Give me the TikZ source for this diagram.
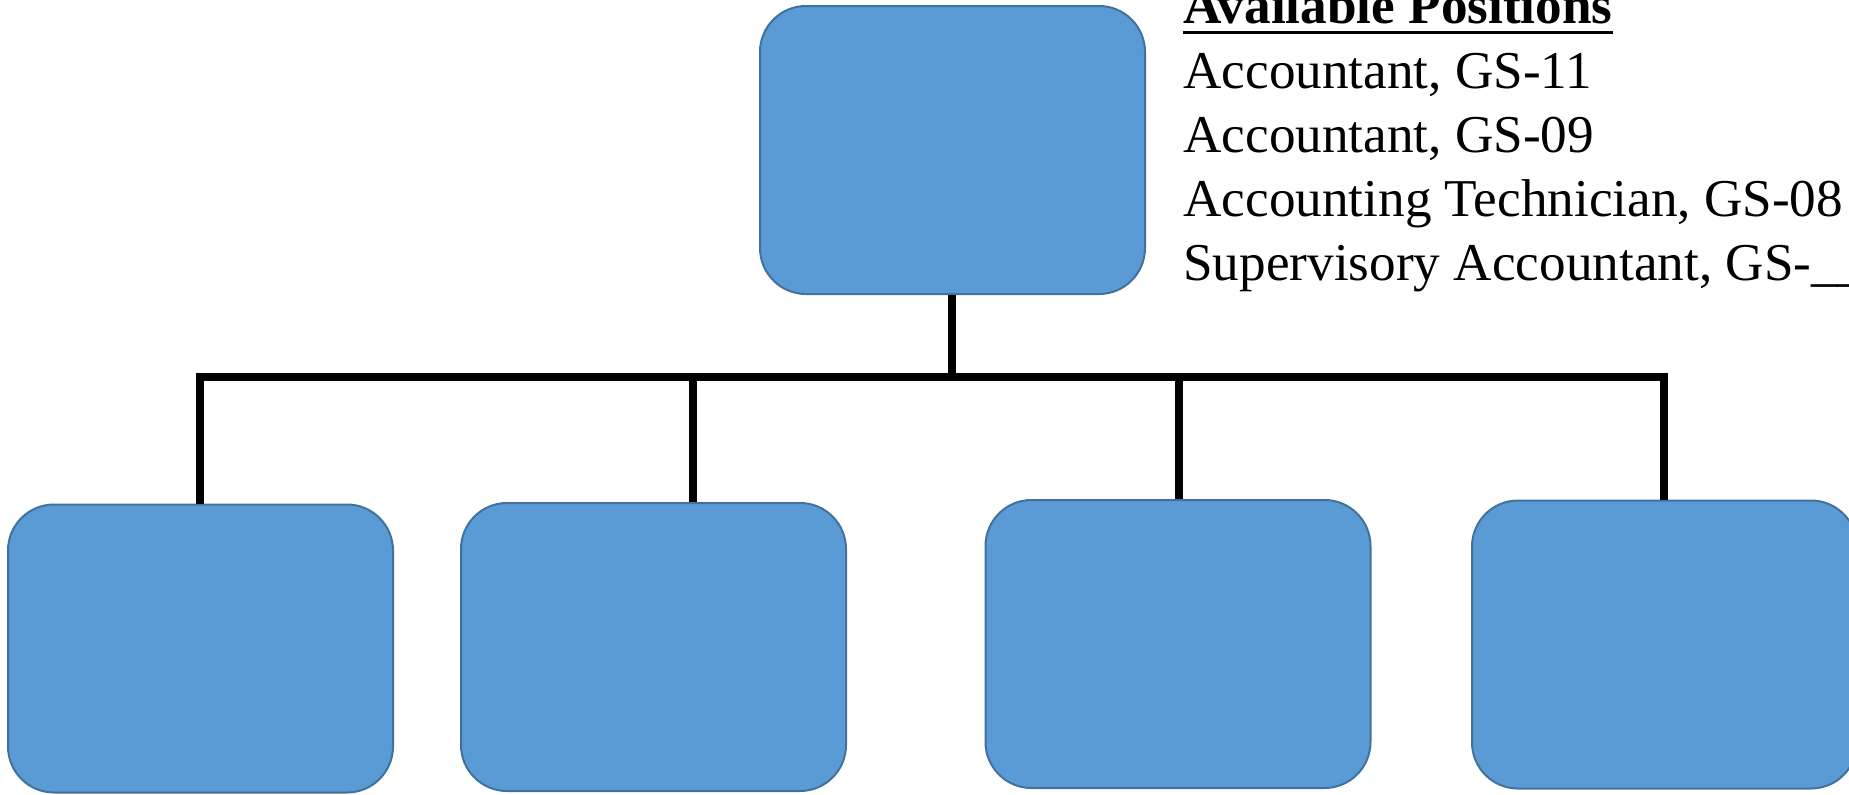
\documentclass[tikz,border=0pt]{standalone}
\usepackage{fontspec}
\setmainfont{Liberation Serif}
\begin{document}
\begin{tikzpicture}[x=0.5pt,y=-0.5pt,
  unit/.style={draw=boxline, fill=boxfill, line width=1pt, rounded corners=23pt,
    minimum width=192.5pt, minimum height=144pt, inner sep=0pt},
  link/.style={line width=4pt, black},
  listline/.style={anchor=base west, inner sep=0pt,
    font=\fontsize{26.6pt}{32pt}\selectfont}]
\definecolor{boxfill}{HTML}{5B9BD5}
\definecolor{boxline}{HTML}{41719C}
\useasboundingbox (0,0) rectangle (1849,794);

% chief and the four subordinate units
\node[unit] (chief) at (952.5,150) {};
\node[unit] (u1) at (200.5,648.5) {};
\node[unit] (u2) at (653.5,647) {};
\node[unit] (u3) at (1178,644) {};
\node[unit] (u4) at (1664.5,644.5) {};

% junctions on the horizontal bus
\coordinate (j1) at (200,377);
\coordinate (j2) at (693,377);
\coordinate (jc) at (952,377);
\coordinate (j3) at (1179,377);
\coordinate (j4) at (1664,377);

\draw[link] (j1 |- u1.north) -- (j1) -- (j4) -- (j4 |- u4.north);
\draw[link] (chief.south -| jc) -- (jc);
\draw[link] (j2) -- (j2 |- u2.north);
\draw[link] (j3) -- (j3 |- u3.north);

% list of open positions
\node[listline, font=\fontsize{26.6pt}{32pt}\selectfont\bfseries] (head) at (1183,23) {Available Positions};
\draw[line width=1.5pt] ([yshift=-4.5pt]head.base west) -- ([yshift=-4.5pt]head.base east);
\node[listline] (p1) at (1183,88) {Accountant, GS-11};
\node[listline] (p2) at (1183,152) {Accountant, GS-09};
\node[listline] (p3) at (1183,216) {Accounting Technician, GS-08};
\node[listline] (p4) at (1183,280) {Supervisory Accountant, GS-\_\_\_};
\end{tikzpicture}
\end{document}
